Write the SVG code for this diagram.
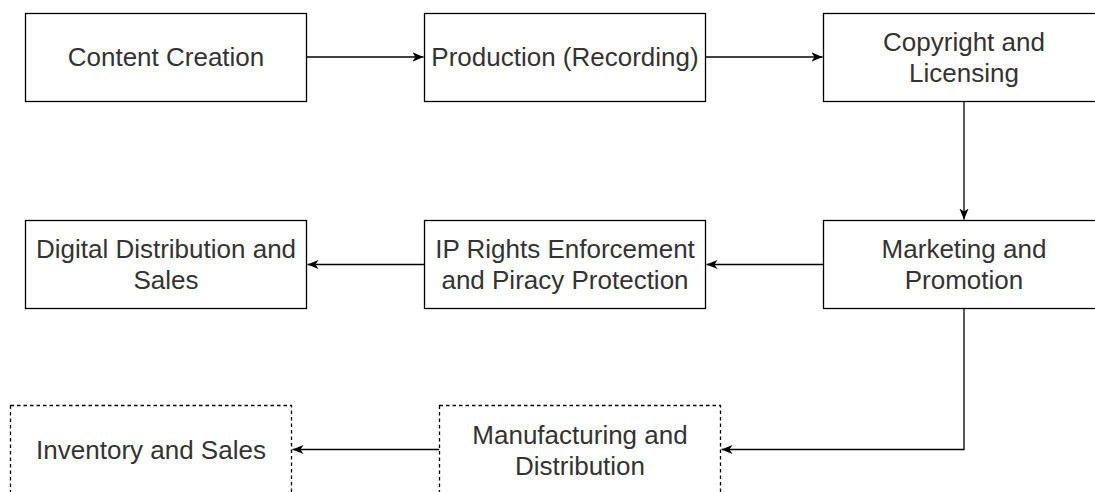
<svg xmlns="http://www.w3.org/2000/svg" width="1095" height="492" viewBox="0 0 1095 492">
<style>
.box{fill:#fff;stroke:#000;stroke-width:1.3}
.dash{fill:#fff;stroke:#000;stroke-width:1.3;stroke-dasharray:3.5 3}
.lbl{font-family:"Liberation Sans",Arial,sans-serif;font-size:26px;fill:#333;text-anchor:middle}
.edge{fill:none;stroke:#000;stroke-width:1.3}
</style>
<defs>
<marker id="arr" viewBox="0 0 10 10" refX="10" refY="5" markerWidth="11" markerHeight="11" markerUnits="userSpaceOnUse" orient="auto">
<path d="M0,0.8 L10,5 L0,9.2 L2.8,5 Z" fill="#000"/>
</marker>
</defs>
<rect width="1095" height="492" fill="#fff"/>
<g id="edges">
<path class="edge" d="M306.5,57 L423.5,57" marker-end="url(#arr)"/>
<path class="edge" d="M705.5,57 L822.5,57" marker-end="url(#arr)"/>
<path class="edge" d="M964,101.5 L964,219.5" marker-end="url(#arr)"/>
<path class="edge" d="M823.5,264.5 L706.5,264.5" marker-end="url(#arr)"/>
<path class="edge" d="M424.5,264.5 L307.5,264.5" marker-end="url(#arr)"/>
<path class="edge" d="M964,308.5 L964,449.5 L721.5,449.5" marker-end="url(#arr)"/>
<path class="edge" d="M439.5,449.5 L292.5,449.5" marker-end="url(#arr)"/>
</g>
<g id="content-creation">
<rect class="box" x="25.5" y="13.5" width="281" height="88"/>
<text class="lbl" x="166" y="66">Content Creation</text>
</g>
<g id="production">
<rect class="box" x="424.5" y="13.5" width="281" height="88"/>
<text class="lbl" x="565" y="66">Production (Recording)</text>
</g>
<g id="copyright">
<rect class="box" x="823.5" y="13.5" width="281" height="88"/>
<text class="lbl" x="964" y="51">Copyright and</text>
<text class="lbl" x="964" y="82">Licensing</text>
</g>
<g id="digital">
<rect class="box" x="25.5" y="220.5" width="281" height="88"/>
<text class="lbl" x="166" y="258">Digital Distribution and</text>
<text class="lbl" x="166" y="289">Sales</text>
</g>
<g id="ip-rights">
<rect class="box" x="424.5" y="220.5" width="281" height="88"/>
<text class="lbl" x="565" y="258">IP Rights Enforcement</text>
<text class="lbl" x="565" y="289">and Piracy Protection</text>
</g>
<g id="marketing">
<rect class="box" x="823.5" y="220.5" width="281" height="88"/>
<text class="lbl" x="964" y="258">Marketing and</text>
<text class="lbl" x="964" y="289">Promotion</text>
</g>
<g id="inventory">
<rect class="dash" x="10.5" y="405.5" width="281" height="88"/>
<text class="lbl" x="151" y="459">Inventory and Sales</text>
</g>
<g id="manufacturing">
<rect class="dash" x="439.5" y="405.5" width="281" height="88"/>
<text class="lbl" x="580" y="444">Manufacturing and</text>
<text class="lbl" x="580" y="475">Distribution</text>
</g>
</svg>
